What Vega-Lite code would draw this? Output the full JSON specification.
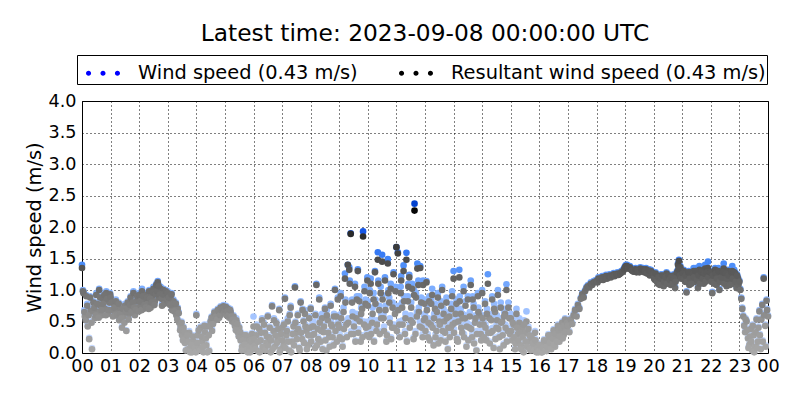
{
"$schema": "https://vega.github.io/schema/vega-lite/v6.json",
"width": 686, "height": 252,
"autosize": "none",
"padding": {"left": 82, "top": 101, "right": 32, "bottom": 47},
"background": "white",
"title": {"text": "Latest time: 2023-09-08 00:00:00 UTC", "fontSize": 23.3, "fontWeight": "normal", "font": "DejaVu Sans", "color": "#000", "anchor": "middle", "offset": 8},
"data": {"values": [
{"m":0,"w":1.40,"r":1.35},{"m":3,"w":0.98,"r":0.95},{"m":6,"w":0.62,"r":0.58},{"m":9,"w":0.92,"r":0.9},{"m":12,"w":0.45,"r":0.42},{"m":15,"w":0.24,"r":0.22},{"m":18,"w":0.7,"r":0.67},{"m":21,"w":0.08,"r":0.06},{"m":24,"w":0.82,"r":0.8},{"m":27,"w":0.58,"r":0.55},{"m":30,"w":0.95,"r":0.92},{"m":33,"w":0.68,"r":0.65},{"m":36,"w":1.02,"r":1.0},{"m":39,"w":0.78,"r":0.75},{"m":42,"w":0.62,"r":0.6},{"m":45,"w":0.88,"r":0.85},{"m":48,"w":0.72,"r":0.7},{"m":51,"w":0.98,"r":0.95},{"m":54,"w":0.64,"r":0.62},{"m":57,"w":0.84,"r":0.8},
{"m":2,"w":1.0,"r":0.98},{"m":5,"w":0.68,"r":0.65},{"m":8,"w":0.55,"r":0.52},{"m":11,"w":0.78,"r":0.75},{"m":14,"w":0.62,"r":0.6},{"m":17,"w":0.9,"r":0.88},{"m":20,"w":0.5,"r":0.48},{"m":23,"w":0.68,"r":0.66},{"m":26,"w":0.75,"r":0.72},{"m":29,"w":0.62,"r":0.6},{"m":32,"w":0.8,"r":0.78},{"m":35,"w":0.58,"r":0.56},{"m":38,"w":0.9,"r":0.88},{"m":41,"w":0.7,"r":0.68},{"m":44,"w":0.8,"r":0.78},{"m":47,"w":0.95,"r":0.92},{"m":50,"w":0.62,"r":0.6},{"m":53,"w":0.88,"r":0.86},{"m":56,"w":0.7,"r":0.68},{"m":59,"w":0.95,"r":0.93},
{"m":60,"w":0.9,"r":0.88},{"m":63,"w":0.7,"r":0.68},{"m":66,"w":0.82,"r":0.8},{"m":69,"w":0.62,"r":0.6},{"m":72,"w":0.75,"r":0.72},{"m":75,"w":0.68,"r":0.65},{"m":78,"w":0.55,"r":0.52},{"m":81,"w":0.72,"r":0.7},{"m":84,"w":0.42,"r":0.4},{"m":87,"w":0.6,"r":0.58},{"m":90,"w":0.78,"r":0.75},{"m":93,"w":0.36,"r":0.35},{"m":96,"w":0.82,"r":0.8},{"m":99,"w":0.65,"r":0.62},{"m":102,"w":0.9,"r":0.88},{"m":105,"w":0.72,"r":0.7},{"m":108,"w":0.98,"r":0.95},{"m":111,"w":0.62,"r":0.6},{"m":114,"w":0.85,"r":0.82},{"m":117,"w":0.75,"r":0.72},
{"m":62,"w":0.82,"r":0.8},{"m":65,"w":0.6,"r":0.58},{"m":68,"w":0.75,"r":0.72},{"m":71,"w":0.85,"r":0.82},{"m":74,"w":0.62,"r":0.6},{"m":77,"w":0.8,"r":0.78},{"m":80,"w":0.65,"r":0.62},{"m":83,"w":0.58,"r":0.55},{"m":86,"w":0.72,"r":0.7},{"m":89,"w":0.5,"r":0.48},{"m":92,"w":0.68,"r":0.65},{"m":95,"w":0.72,"r":0.7},{"m":98,"w":0.55,"r":0.53},{"m":101,"w":0.78,"r":0.76},{"m":104,"w":0.68,"r":0.65},{"m":107,"w":0.82,"r":0.8},{"m":110,"w":0.75,"r":0.72},{"m":113,"w":0.7,"r":0.68},{"m":116,"w":0.92,"r":0.9},{"m":119,"w":0.68,"r":0.66},
{"m":120,"w":0.95,"r":0.92},{"m":123,"w":0.78,"r":0.75},{"m":126,"w":1.02,"r":0.98},{"m":129,"w":0.72,"r":0.7},{"m":132,"w":0.88,"r":0.85},{"m":135,"w":0.95,"r":0.92},{"m":138,"w":0.8,"r":0.78},{"m":141,"w":1.0,"r":0.98},{"m":144,"w":0.75,"r":0.72},{"m":147,"w":0.92,"r":0.9},{"m":150,"w":1.05,"r":1.02},{"m":153,"w":0.85,"r":0.82},{"m":156,"w":1.1,"r":1.08},{"m":159,"w":1.14,"r":1.12},{"m":162,"w":0.9,"r":0.88},{"m":165,"w":1.05,"r":1.02},{"m":168,"w":0.78,"r":0.75},{"m":171,"w":1.02,"r":1.0},{"m":174,"w":0.85,"r":0.82},{"m":177,"w":0.95,"r":0.92},
{"m":122,"w":0.85,"r":0.82},{"m":125,"w":0.7,"r":0.68},{"m":128,"w":0.92,"r":0.9},{"m":131,"w":0.78,"r":0.76},{"m":134,"w":0.75,"r":0.72},{"m":137,"w":0.9,"r":0.88},{"m":140,"w":0.72,"r":0.7},{"m":143,"w":0.88,"r":0.86},{"m":146,"w":0.82,"r":0.8},{"m":149,"w":0.98,"r":0.96},{"m":152,"w":0.78,"r":0.76},{"m":155,"w":0.95,"r":0.93},{"m":158,"w":1.0,"r":0.98},{"m":161,"w":1.08,"r":1.06},{"m":164,"w":0.95,"r":0.93},{"m":167,"w":0.88,"r":0.86},{"m":170,"w":0.95,"r":0.93},{"m":173,"w":0.8,"r":0.78},{"m":176,"w":1.0,"r":0.98},{"m":179,"w":0.85,"r":0.83},
{"m":180,"w":0.98,"r":0.95},{"m":183,"w":0.82,"r":0.8},{"m":186,"w":0.92,"r":0.9},{"m":189,"w":0.7,"r":0.68},{"m":192,"w":0.85,"r":0.82},{"m":195,"w":0.75,"r":0.72},{"m":198,"w":0.62,"r":0.6},{"m":201,"w":0.72,"r":0.7},{"m":204,"w":0.5,"r":0.48},{"m":207,"w":0.45,"r":0.42},{"m":210,"w":0.3,"r":0.28},{"m":213,"w":0.42,"r":0.4},{"m":216,"w":0.18,"r":0.16},{"m":219,"w":0.25,"r":0.22},{"m":222,"w":0.08,"r":0.06},{"m":225,"w":0.35,"r":0.32},{"m":228,"w":0.12,"r":0.1},{"m":231,"w":0.02,"r":0.01},{"m":234,"w":0.2,"r":0.18},{"m":237,"w":0.05,"r":0.03},
{"m":182,"w":0.9,"r":0.88},{"m":185,"w":0.78,"r":0.76},{"m":188,"w":0.95,"r":0.93},{"m":191,"w":0.8,"r":0.78},{"m":194,"w":0.68,"r":0.66},{"m":197,"w":0.8,"r":0.78},{"m":200,"w":0.55,"r":0.53},{"m":203,"w":0.65,"r":0.63},{"m":206,"w":0.38,"r":0.36},{"m":209,"w":0.5,"r":0.48},{"m":212,"w":0.22,"r":0.2},{"m":215,"w":0.35,"r":0.33},{"m":218,"w":0.05,"r":0.04},{"m":221,"w":0.3,"r":0.28},{"m":224,"w":0.2,"r":0.18},{"m":227,"w":0.02,"r":0.01},{"m":230,"w":0.15,"r":0.13},{"m":233,"w":0.28,"r":0.26},{"m":236,"w":0.1,"r":0.08},{"m":239,"w":0.02,"r":0.01},
{"m":240,"w":0.62,"r":0.6},{"m":243,"w":0.3,"r":0.28},{"m":246,"w":0.1,"r":0.08},{"m":249,"w":0.42,"r":0.4},{"m":252,"w":0.2,"r":0.18},{"m":255,"w":0.02,"r":0.01},{"m":258,"w":0.35,"r":0.33},{"m":261,"w":0.15,"r":0.12},{"m":264,"w":0.45,"r":0.42},{"m":267,"w":0.05,"r":0.03},{"m":270,"w":0.52,"r":0.5},{"m":273,"w":0.38,"r":0.35},{"m":276,"w":0.6,"r":0.58},{"m":279,"w":0.55,"r":0.52},{"m":282,"w":0.65,"r":0.62},{"m":285,"w":0.7,"r":0.68},{"m":288,"w":0.58,"r":0.56},{"m":291,"w":0.74,"r":0.72},{"m":294,"w":0.65,"r":0.63},{"m":297,"w":0.76,"r":0.74},
{"m":242,"w":0.18,"r":0.16},{"m":245,"w":0.38,"r":0.36},{"m":248,"w":0.05,"r":0.04},{"m":251,"w":0.28,"r":0.26},{"m":254,"w":0.12,"r":0.1},{"m":257,"w":0.45,"r":0.43},{"m":260,"w":0.25,"r":0.23},{"m":263,"w":0.02,"r":0.01},{"m":266,"w":0.3,"r":0.28},{"m":269,"w":0.45,"r":0.43},{"m":272,"w":0.58,"r":0.56},{"m":275,"w":0.48,"r":0.46},{"m":278,"w":0.66,"r":0.64},{"m":281,"w":0.6,"r":0.58},{"m":284,"w":0.55,"r":0.53},{"m":287,"w":0.68,"r":0.66},{"m":290,"w":0.62,"r":0.6},{"m":293,"w":0.7,"r":0.68},{"m":296,"w":0.72,"r":0.7},{"m":299,"w":0.66,"r":0.64},
{"m":300,"w":0.7,"r":0.68},{"m":303,"w":0.62,"r":0.6},{"m":306,"w":0.72,"r":0.7},{"m":309,"w":0.58,"r":0.56},{"m":312,"w":0.66,"r":0.64},{"m":315,"w":0.52,"r":0.5},{"m":318,"w":0.6,"r":0.58},{"m":321,"w":0.45,"r":0.43},{"m":324,"w":0.55,"r":0.52},{"m":327,"w":0.35,"r":0.33},{"m":330,"w":0.42,"r":0.4},{"m":333,"w":0.22,"r":0.2},{"m":336,"w":0.12,"r":0.1},{"m":339,"w":0.3,"r":0.28},{"m":342,"w":0.05,"r":0.04},{"m":345,"w":0.18,"r":0.16},{"m":348,"w":0.02,"r":0.01},{"m":351,"w":0.25,"r":0.22},{"m":354,"w":0.1,"r":0.08},{"m":357,"w":0.32,"r":0.3},
{"m":302,"w":0.75,"r":0.73},{"m":305,"w":0.68,"r":0.66},{"m":308,"w":0.62,"r":0.6},{"m":311,"w":0.7,"r":0.68},{"m":314,"w":0.6,"r":0.58},{"m":317,"w":0.55,"r":0.53},{"m":320,"w":0.5,"r":0.48},{"m":323,"w":0.38,"r":0.36},{"m":326,"w":0.48,"r":0.46},{"m":329,"w":0.28,"r":0.26},{"m":332,"w":0.35,"r":0.33},{"m":335,"w":0.05,"r":0.04},{"m":338,"w":0.22,"r":0.2},{"m":341,"w":0.15,"r":0.13},{"m":344,"w":0.3,"r":0.28},{"m":347,"w":0.08,"r":0.06},{"m":350,"w":0.12,"r":0.1},{"m":353,"w":0.02,"r":0.01},{"m":356,"w":0.2,"r":0.18},{"m":359,"w":0.08,"r":0.07},
{"m":360,"w":0.58,"r":0.42},{"m":363,"w":0.15,"r":0.12},{"m":366,"w":0.3,"r":0.28},{"m":369,"w":0.05,"r":0.03},{"m":372,"w":0.4,"r":0.38},{"m":375,"w":0.22,"r":0.2},{"m":378,"w":0.55,"r":0.52},{"m":381,"w":0.1,"r":0.08},{"m":384,"w":0.35,"r":0.32},{"m":387,"w":0.18,"r":0.16},{"m":390,"w":0.6,"r":0.58},{"m":393,"w":0.28,"r":0.25},{"m":396,"w":0.02,"r":0.01},{"m":399,"w":0.76,"r":0.74},{"m":402,"w":0.38,"r":0.35},{"m":405,"w":0.12,"r":0.1},{"m":408,"w":0.5,"r":0.47},{"m":411,"w":0.25,"r":0.22},{"m":414,"w":0.7,"r":0.68},{"m":417,"w":0.08,"r":0.06},
{"m":361,"w":0.25,"r":0.22},{"m":364,"w":0.08,"r":0.06},{"m":367,"w":0.45,"r":0.42},{"m":370,"w":0.2,"r":0.18},{"m":373,"w":0.02,"r":0.01},{"m":376,"w":0.35,"r":0.32},{"m":379,"w":0.12,"r":0.1},{"m":382,"w":0.48,"r":0.45},{"m":385,"w":0.05,"r":0.04},{"m":388,"w":0.28,"r":0.26},{"m":391,"w":0.15,"r":0.12},{"m":394,"w":0.42,"r":0.4},{"m":397,"w":0.22,"r":0.2},{"m":400,"w":0.08,"r":0.06},{"m":403,"w":0.55,"r":0.52},{"m":406,"w":0.3,"r":0.28},{"m":409,"w":0.18,"r":0.16},{"m":412,"w":0.4,"r":0.38},{"m":415,"w":0.02,"r":0.01},{"m":418,"w":0.32,"r":0.3},
{"m":420,"w":0.42,"r":0.4},{"m":423,"w":0.15,"r":0.12},{"m":426,"w":0.88,"r":0.86},{"m":429,"w":0.3,"r":0.28},{"m":432,"w":0.55,"r":0.5},{"m":435,"w":0.05,"r":0.04},{"m":438,"w":0.75,"r":0.72},{"m":441,"w":0.2,"r":0.18},{"m":444,"w":0.45,"r":0.42},{"m":447,"w":1.06,"r":1.04},{"m":450,"w":0.35,"r":0.32},{"m":453,"w":0.62,"r":0.6},{"m":456,"w":0.1,"r":0.08},{"m":459,"w":0.82,"r":0.8},{"m":462,"w":0.25,"r":0.22},{"m":465,"w":0.52,"r":0.5},{"m":468,"w":0.68,"r":0.62},{"m":471,"w":0.38,"r":0.35},{"m":474,"w":0.15,"r":0.12},{"m":477,"w":0.58,"r":0.55},
{"m":421,"w":0.22,"r":0.2},{"m":424,"w":0.48,"r":0.45},{"m":427,"w":0.1,"r":0.08},{"m":430,"w":0.38,"r":0.35},{"m":433,"w":0.2,"r":0.18},{"m":436,"w":0.62,"r":0.6},{"m":439,"w":0.02,"r":0.01},{"m":442,"w":0.32,"r":0.3},{"m":445,"w":0.15,"r":0.12},{"m":448,"w":0.5,"r":0.48},{"m":451,"w":0.25,"r":0.22},{"m":454,"w":0.42,"r":0.38},{"m":457,"w":0.05,"r":0.04},{"m":460,"w":0.35,"r":0.32},{"m":463,"w":0.7,"r":0.68},{"m":466,"w":0.18,"r":0.16},{"m":469,"w":0.45,"r":0.42},{"m":472,"w":0.08,"r":0.06},{"m":475,"w":0.3,"r":0.28},{"m":478,"w":0.42,"r":0.4},
{"m":480,"w":0.72,"r":0.7},{"m":483,"w":0.3,"r":0.28},{"m":486,"w":0.5,"r":0.42},{"m":489,"w":0.1,"r":0.08},{"m":492,"w":1.1,"r":1.08},{"m":495,"w":0.4,"r":0.38},{"m":498,"w":0.88,"r":0.85},{"m":501,"w":0.2,"r":0.18},{"m":504,"w":0.62,"r":0.55},{"m":507,"w":0.35,"r":0.33},{"m":510,"w":0.72,"r":0.7},{"m":513,"w":0.05,"r":0.04},{"m":516,"w":0.55,"r":0.52},{"m":519,"w":0.28,"r":0.25},{"m":522,"w":0.78,"r":0.75},{"m":525,"w":0.45,"r":0.42},{"m":528,"w":0.15,"r":0.12},{"m":531,"w":1.02,"r":1.0},{"m":534,"w":0.6,"r":0.58},{"m":537,"w":0.88,"r":0.85},
{"m":481,"w":0.2,"r":0.18},{"m":484,"w":0.48,"r":0.42},{"m":487,"w":0.32,"r":0.3},{"m":490,"w":0.62,"r":0.6},{"m":493,"w":0.15,"r":0.12},{"m":496,"w":0.25,"r":0.22},{"m":499,"w":0.55,"r":0.48},{"m":502,"w":0.38,"r":0.35},{"m":505,"w":0.08,"r":0.06},{"m":508,"w":0.45,"r":0.42},{"m":511,"w":0.22,"r":0.2},{"m":514,"w":0.68,"r":0.6},{"m":517,"w":0.35,"r":0.32},{"m":520,"w":0.12,"r":0.1},{"m":523,"w":0.5,"r":0.45},{"m":526,"w":0.28,"r":0.25},{"m":529,"w":0.62,"r":0.58},{"m":532,"w":0.4,"r":0.35},{"m":535,"w":0.2,"r":0.18},{"m":538,"w":0.5,"r":0.45},
{"m":540,"w":0.45,"r":0.4},{"m":543,"w":0.95,"r":0.9},{"m":546,"w":0.25,"r":0.22},{"m":549,"w":0.72,"r":0.65},{"m":552,"w":1.26,"r":1.18},{"m":555,"w":0.5,"r":0.45},{"m":558,"w":1.4,"r":1.4},{"m":561,"w":1.36,"r":1.32},{"m":564,"w":1.9,"r":1.89},{"m":567,"w":0.85,"r":0.8},{"m":570,"w":0.35,"r":0.3},{"m":573,"w":1.1,"r":1.05},{"m":576,"w":0.62,"r":0.55},{"m":579,"w":1.33,"r":1.3},{"m":582,"w":0.9,"r":0.82},{"m":585,"w":0.2,"r":0.18},{"m":588,"w":0.75,"r":0.7},{"m":590,"w":1.93,"r":1.85},{"m":593,"w":1.05,"r":0.98},{"m":596,"w":0.45,"r":0.4},{"m":599,"w":1.2,"r":1.15},
{"m":541,"w":0.3,"r":0.25},{"m":544,"w":0.62,"r":0.55},{"m":547,"w":0.12,"r":0.1},{"m":550,"w":0.42,"r":0.38},{"m":553,"w":0.85,"r":0.8},{"m":556,"w":0.28,"r":0.25},{"m":559,"w":0.55,"r":0.48},{"m":562,"w":1.15,"r":1.1},{"m":565,"w":0.35,"r":0.3},{"m":568,"w":0.65,"r":0.58},{"m":571,"w":0.48,"r":0.42},{"m":574,"w":0.2,"r":0.18},{"m":577,"w":0.9,"r":0.85},{"m":580,"w":0.38,"r":0.32},{"m":583,"w":0.55,"r":0.5},{"m":586,"w":0.72,"r":0.62},{"m":589,"w":0.28,"r":0.25},{"m":592,"w":0.5,"r":0.45},{"m":595,"w":0.85,"r":0.78},{"m":598,"w":0.32,"r":0.28},
{"m":600,"w":0.82,"r":0.75},{"m":603,"w":0.3,"r":0.25},{"m":606,"w":1.18,"r":1.1},{"m":609,"w":0.55,"r":0.48},{"m":612,"w":0.95,"r":0.85},{"m":615,"w":1.3,"r":1.28},{"m":618,"w":0.4,"r":0.35},{"m":621,"w":1.6,"r":1.48},{"m":624,"w":0.75,"r":0.68},{"m":627,"w":1.05,"r":0.95},{"m":630,"w":1.56,"r":1.45},{"m":633,"w":0.62,"r":0.55},{"m":636,"w":1.2,"r":1.15},{"m":639,"w":0.2,"r":0.18},{"m":642,"w":1.49,"r":1.42},{"m":645,"w":0.88,"r":0.8},{"m":648,"w":1.1,"r":1.02},{"m":651,"w":0.45,"r":0.4},{"m":654,"w":1.28,"r":1.25},{"m":657,"w":0.7,"r":0.62},
{"m":601,"w":0.5,"r":0.42},{"m":604,"w":1.0,"r":0.95},{"m":607,"w":0.38,"r":0.3},{"m":610,"w":0.72,"r":0.62},{"m":613,"w":0.2,"r":0.18},{"m":616,"w":0.85,"r":0.78},{"m":619,"w":0.52,"r":0.45},{"m":622,"w":1.15,"r":1.1},{"m":625,"w":0.35,"r":0.3},{"m":628,"w":0.62,"r":0.55},{"m":631,"w":0.92,"r":0.85},{"m":634,"w":0.42,"r":0.35},{"m":637,"w":0.75,"r":0.68},{"m":640,"w":0.3,"r":0.28},{"m":643,"w":1.0,"r":0.95},{"m":646,"w":0.55,"r":0.48},{"m":649,"w":0.25,"r":0.22},{"m":652,"w":0.8,"r":0.72},{"m":655,"w":0.45,"r":0.4},{"m":658,"w":1.05,"r":0.98},
{"m":660,"w":1.68,"r":1.68},{"m":663,"w":1.6,"r":1.58},{"m":666,"w":0.5,"r":0.45},{"m":669,"w":1.05,"r":0.95},{"m":672,"w":0.8,"r":0.72},{"m":675,"w":1.39,"r":1.3},{"m":678,"w":0.35,"r":0.3},{"m":681,"w":1.59,"r":1.48},{"m":684,"w":0.9,"r":0.82},{"m":687,"w":1.24,"r":1.2},{"m":690,"w":0.6,"r":0.52},{"m":693,"w":1.1,"r":1.02},{"m":696,"w":0.25,"r":0.22},{"m":698,"w":2.37,"r":2.26},{"m":701,"w":0.95,"r":0.88},{"m":704,"w":1.42,"r":1.34},{"m":707,"w":0.72,"r":0.65},{"m":710,"w":1.38,"r":1.35},{"m":713,"w":0.45,"r":0.4},{"m":716,"w":1.15,"r":1.08},{"m":719,"w":0.85,"r":0.78},
{"m":661,"w":0.4,"r":0.35},{"m":664,"w":0.75,"r":0.68},{"m":667,"w":0.28,"r":0.25},{"m":670,"w":1.22,"r":1.15},{"m":673,"w":0.52,"r":0.45},{"m":676,"w":0.9,"r":0.82},{"m":679,"w":0.62,"r":0.55},{"m":682,"w":0.2,"r":0.18},{"m":685,"w":1.1,"r":1.05},{"m":688,"w":0.45,"r":0.4},{"m":691,"w":0.8,"r":0.72},{"m":694,"w":0.55,"r":0.48},{"m":697,"w":1.0,"r":0.92},{"m":700,"w":0.35,"r":0.3},{"m":703,"w":0.65,"r":0.58},{"m":706,"w":1.15,"r":1.08},{"m":709,"w":0.5,"r":0.42},{"m":712,"w":0.88,"r":0.8},{"m":715,"w":0.3,"r":0.25},{"m":718,"w":0.6,"r":0.52},
{"m":720,"w":0.62,"r":0.55},{"m":723,"w":1.14,"r":1.12},{"m":726,"w":0.3,"r":0.25},{"m":729,"w":0.9,"r":0.82},{"m":732,"w":0.5,"r":0.45},{"m":735,"w":1.02,"r":0.92},{"m":738,"w":0.15,"r":0.12},{"m":741,"w":0.78,"r":0.7},{"m":744,"w":0.4,"r":0.35},{"m":747,"w":0.95,"r":0.88},{"m":750,"w":0.58,"r":0.5},{"m":753,"w":0.25,"r":0.2},{"m":756,"w":1.05,"r":1.0},{"m":759,"w":0.7,"r":0.62},{"m":762,"w":0.35,"r":0.32},{"m":765,"w":0.88,"r":0.8},{"m":768,"w":0.08,"r":0.06},{"m":771,"w":0.65,"r":0.58},{"m":774,"w":0.45,"r":0.4},{"m":777,"w":0.98,"r":0.9},
{"m":721,"w":0.4,"r":0.35},{"m":724,"w":0.75,"r":0.68},{"m":727,"w":0.55,"r":0.48},{"m":730,"w":0.22,"r":0.2},{"m":733,"w":0.85,"r":0.78},{"m":736,"w":0.45,"r":0.4},{"m":739,"w":0.62,"r":0.55},{"m":742,"w":0.3,"r":0.25},{"m":745,"w":0.72,"r":0.65},{"m":748,"w":0.18,"r":0.15},{"m":751,"w":0.5,"r":0.45},{"m":754,"w":0.82,"r":0.75},{"m":757,"w":0.4,"r":0.35},{"m":760,"w":0.55,"r":0.5},{"m":763,"w":0.2,"r":0.18},{"m":766,"w":0.62,"r":0.55},{"m":769,"w":0.45,"r":0.4},{"m":772,"w":0.3,"r":0.25},{"m":775,"w":0.78,"r":0.7},{"m":778,"w":0.5,"r":0.45},
{"m":780,"w":1.3,"r":1.18},{"m":783,"w":0.55,"r":0.48},{"m":786,"w":0.85,"r":0.78},{"m":789,"w":0.2,"r":0.18},{"m":792,"w":1.32,"r":1.2},{"m":795,"w":0.7,"r":0.62},{"m":798,"w":0.38,"r":0.32},{"m":801,"w":1.05,"r":0.98},{"m":804,"w":0.6,"r":0.55},{"m":807,"w":0.12,"r":0.1},{"m":810,"w":0.9,"r":0.85},{"m":813,"w":0.45,"r":0.4},{"m":816,"w":1.15,"r":1.08},{"m":819,"w":0.3,"r":0.25},{"m":822,"w":0.78,"r":0.72},{"m":825,"w":0.52,"r":0.48},{"m":828,"w":0.05,"r":0.04},{"m":831,"w":0.95,"r":0.9},{"m":834,"w":0.65,"r":0.6},{"m":837,"w":0.35,"r":0.3},
{"m":781,"w":0.38,"r":0.32},{"m":784,"w":0.7,"r":0.62},{"m":787,"w":0.25,"r":0.22},{"m":790,"w":0.55,"r":0.5},{"m":793,"w":0.9,"r":0.82},{"m":796,"w":0.45,"r":0.4},{"m":799,"w":0.62,"r":0.55},{"m":802,"w":0.3,"r":0.25},{"m":805,"w":0.82,"r":0.75},{"m":808,"w":0.48,"r":0.42},{"m":811,"w":0.22,"r":0.2},{"m":814,"w":0.65,"r":0.58},{"m":817,"w":0.42,"r":0.38},{"m":820,"w":0.9,"r":0.85},{"m":823,"w":0.18,"r":0.15},{"m":826,"w":0.6,"r":0.55},{"m":829,"w":0.35,"r":0.3},{"m":832,"w":0.72,"r":0.65},{"m":835,"w":0.5,"r":0.45},{"m":838,"w":0.22,"r":0.2},
{"m":840,"w":1.0,"r":0.95},{"m":843,"w":0.5,"r":0.45},{"m":846,"w":0.82,"r":0.78},{"m":849,"w":0.22,"r":0.2},{"m":852,"w":1.25,"r":1.1},{"m":855,"w":0.62,"r":0.55},{"m":858,"w":0.38,"r":0.32},{"m":861,"w":0.9,"r":0.85},{"m":864,"w":0.1,"r":0.08},{"m":867,"w":0.72,"r":0.65},{"m":870,"w":0.45,"r":0.4},{"m":873,"w":1.0,"r":0.92},{"m":876,"w":0.28,"r":0.25},{"m":879,"w":0.8,"r":0.72},{"m":882,"w":0.55,"r":0.5},{"m":885,"w":0.15,"r":0.12},{"m":888,"w":0.7,"r":0.62},{"m":891,"w":1.09,"r":1.0},{"m":894,"w":0.4,"r":0.35},{"m":897,"w":0.6,"r":0.55},
{"m":841,"w":0.6,"r":0.55},{"m":844,"w":0.3,"r":0.25},{"m":847,"w":0.45,"r":0.4},{"m":850,"w":0.7,"r":0.62},{"m":853,"w":0.38,"r":0.32},{"m":856,"w":0.18,"r":0.15},{"m":859,"w":0.58,"r":0.52},{"m":862,"w":0.4,"r":0.35},{"m":865,"w":0.78,"r":0.7},{"m":868,"w":0.25,"r":0.22},{"m":871,"w":0.6,"r":0.52},{"m":874,"w":0.42,"r":0.38},{"m":877,"w":0.08,"r":0.06},{"m":880,"w":0.55,"r":0.48},{"m":883,"w":0.32,"r":0.28},{"m":886,"w":0.65,"r":0.58},{"m":889,"w":0.45,"r":0.4},{"m":892,"w":0.2,"r":0.18},{"m":895,"w":0.8,"r":0.72},{"m":898,"w":0.35,"r":0.3},
{"m":900,"w":0.62,"r":0.55},{"m":903,"w":0.25,"r":0.2},{"m":906,"w":0.5,"r":0.45},{"m":909,"w":0.08,"r":0.06},{"m":912,"w":0.7,"r":0.62},{"m":915,"w":0.35,"r":0.3},{"m":918,"w":0.55,"r":0.48},{"m":921,"w":0.15,"r":0.12},{"m":924,"w":0.45,"r":0.4},{"m":927,"w":0.02,"r":0.01},{"m":930,"w":0.38,"r":0.32},{"m":933,"w":0.66,"r":0.5},{"m":936,"w":0.2,"r":0.18},{"m":939,"w":0.3,"r":0.28},{"m":942,"w":0.05,"r":0.04},{"m":945,"w":0.25,"r":0.22},{"m":948,"w":0.12,"r":0.1},{"m":951,"w":0.35,"r":0.32},{"m":954,"w":0.02,"r":0.01},{"m":957,"w":0.15,"r":0.12},
{"m":901,"w":0.4,"r":0.35},{"m":904,"w":0.55,"r":0.48},{"m":907,"w":0.3,"r":0.25},{"m":910,"w":0.18,"r":0.15},{"m":913,"w":0.45,"r":0.4},{"m":916,"w":0.25,"r":0.2},{"m":919,"w":0.38,"r":0.32},{"m":922,"w":0.08,"r":0.06},{"m":925,"w":0.3,"r":0.25},{"m":928,"w":0.52,"r":0.45},{"m":931,"w":0.2,"r":0.18},{"m":934,"w":0.12,"r":0.1},{"m":937,"w":0.42,"r":0.38},{"m":940,"w":0.08,"r":0.06},{"m":943,"w":0.28,"r":0.25},{"m":946,"w":0.18,"r":0.15},{"m":949,"w":0.05,"r":0.04},{"m":952,"w":0.22,"r":0.2},{"m":955,"w":0.1,"r":0.08},{"m":958,"w":0.02,"r":0.01},
{"m":960,"w":0.05,"r":0.04},{"m":963,"w":0.12,"r":0.1},{"m":966,"w":0.02,"r":0.01},{"m":969,"w":0.08,"r":0.06},{"m":972,"w":0.15,"r":0.13},{"m":975,"w":0.04,"r":0.03},{"m":978,"w":0.22,"r":0.2},{"m":981,"w":0.1,"r":0.08},{"m":984,"w":0.3,"r":0.28},{"m":987,"w":0.18,"r":0.16},{"m":990,"w":0.38,"r":0.36},{"m":993,"w":0.12,"r":0.1},{"m":996,"w":0.28,"r":0.26},{"m":999,"w":0.45,"r":0.43},{"m":1002,"w":0.2,"r":0.18},{"m":1005,"w":0.35,"r":0.33},{"m":1008,"w":0.5,"r":0.48},{"m":1011,"w":0.3,"r":0.28},{"m":1014,"w":0.55,"r":0.53},{"m":1017,"w":0.42,"r":0.4},
{"m":961,"w":0.15,"r":0.13},{"m":964,"w":0.02,"r":0.01},{"m":967,"w":0.1,"r":0.08},{"m":970,"w":0.22,"r":0.2},{"m":973,"w":0.05,"r":0.04},{"m":976,"w":0.12,"r":0.1},{"m":979,"w":0.3,"r":0.28},{"m":982,"w":0.18,"r":0.16},{"m":985,"w":0.08,"r":0.06},{"m":988,"w":0.25,"r":0.23},{"m":991,"w":0.15,"r":0.13},{"m":994,"w":0.32,"r":0.3},{"m":997,"w":0.2,"r":0.18},{"m":1000,"w":0.38,"r":0.36},{"m":1003,"w":0.28,"r":0.26},{"m":1006,"w":0.42,"r":0.4},{"m":1009,"w":0.25,"r":0.23},{"m":1012,"w":0.45,"r":0.43},{"m":1015,"w":0.35,"r":0.33},{"m":1018,"w":0.5,"r":0.48},
{"m":1020,"w":0.45,"r":0.43},{"m":1023,"w":0.35,"r":0.33},{"m":1026,"w":0.55,"r":0.53},{"m":1029,"w":0.48,"r":0.46},{"m":1032,"w":0.62,"r":0.6},{"m":1035,"w":0.7,"r":0.68},{"m":1038,"w":0.6,"r":0.58},{"m":1041,"w":0.78,"r":0.76},{"m":1044,"w":0.72,"r":0.7},{"m":1047,"w":0.88,"r":0.86},{"m":1050,"w":0.95,"r":0.93},{"m":1053,"w":0.9,"r":0.88},{"m":1056,"w":1.0,"r":0.98},{"m":1059,"w":1.05,"r":1.03},{"m":1062,"w":1.08,"r":1.06},{"m":1065,"w":1.06,"r":1.04},{"m":1068,"w":1.12,"r":1.1},{"m":1071,"w":1.1,"r":1.08},{"m":1074,"w":1.14,"r":1.12},{"m":1077,"w":1.15,"r":1.13},
{"m":1080,"w":1.16,"r":1.14},{"m":1084,"w":1.2,"r":1.18},{"m":1088,"w":1.18,"r":1.16},{"m":1092,"w":1.22,"r":1.2},{"m":1096,"w":1.2,"r":1.18},{"m":1100,"w":1.24,"r":1.22},{"m":1104,"w":1.22,"r":1.2},{"m":1108,"w":1.25,"r":1.23},{"m":1112,"w":1.24,"r":1.22},{"m":1116,"w":1.27,"r":1.25},{"m":1120,"w":1.26,"r":1.24},{"m":1124,"w":1.28,"r":1.26},{"m":1128,"w":1.27,"r":1.25},{"m":1132,"w":1.3,"r":1.28},{"m":1136,"w":1.32,"r":1.3},
{"m":1082,"w":1.14,"r":1.12},{"m":1086,"w":1.18,"r":1.16},{"m":1090,"w":1.2,"r":1.18},{"m":1094,"w":1.18,"r":1.16},{"m":1098,"w":1.22,"r":1.2},{"m":1102,"w":1.2,"r":1.18},{"m":1106,"w":1.24,"r":1.22},{"m":1110,"w":1.22,"r":1.2},{"m":1114,"w":1.25,"r":1.23},{"m":1118,"w":1.24,"r":1.22},{"m":1122,"w":1.27,"r":1.25},{"m":1126,"w":1.26,"r":1.24},{"m":1130,"w":1.28,"r":1.26},{"m":1134,"w":1.3,"r":1.28},{"m":1138,"w":1.35,"r":1.33},
{"m":1140,"w":1.38,"r":1.36},{"m":1144,"w":1.4,"r":1.38},{"m":1148,"w":1.37,"r":1.35},{"m":1152,"w":1.35,"r":1.33},{"m":1156,"w":1.32,"r":1.3},{"m":1160,"w":1.34,"r":1.32},{"m":1164,"w":1.3,"r":1.28},{"m":1168,"w":1.33,"r":1.31},{"m":1172,"w":1.36,"r":1.34},{"m":1176,"w":1.33,"r":1.31},{"m":1180,"w":1.3,"r":1.28},{"m":1184,"w":1.35,"r":1.33},{"m":1188,"w":1.31,"r":1.29},{"m":1192,"w":1.25,"r":1.23},{"m":1196,"w":1.3,"r":1.28},
{"m":1142,"w":1.4,"r":1.38},{"m":1146,"w":1.36,"r":1.34},{"m":1150,"w":1.38,"r":1.36},{"m":1154,"w":1.33,"r":1.31},{"m":1158,"w":1.31,"r":1.29},{"m":1162,"w":1.35,"r":1.33},{"m":1166,"w":1.32,"r":1.3},{"m":1170,"w":1.3,"r":1.28},{"m":1174,"w":1.34,"r":1.32},{"m":1178,"w":1.35,"r":1.33},{"m":1182,"w":1.32,"r":1.3},{"m":1186,"w":1.28,"r":1.26},{"m":1190,"w":1.33,"r":1.31},{"m":1194,"w":1.32,"r":1.3},{"m":1198,"w":1.28,"r":1.26},
{"m":1200,"w":1.26,"r":1.24},{"m":1203,"w":1.18,"r":1.16},{"m":1206,"w":1.22,"r":1.2},{"m":1209,"w":1.12,"r":1.1},{"m":1212,"w":1.2,"r":1.18},{"m":1215,"w":1.25,"r":1.23},{"m":1218,"w":1.15,"r":1.13},{"m":1221,"w":1.08,"r":1.06},{"m":1224,"w":1.2,"r":1.18},{"m":1227,"w":1.28,"r":1.26},{"m":1230,"w":1.14,"r":1.12},{"m":1233,"w":1.22,"r":1.2},{"m":1236,"w":1.1,"r":1.08},{"m":1239,"w":1.18,"r":1.16},{"m":1242,"w":1.25,"r":1.23},{"m":1245,"w":1.05,"r":1.03},{"m":1248,"w":1.2,"r":1.18},{"m":1251,"w":1.42,"r":1.4},{"m":1253,"w":1.48,"r":1.46},{"m":1256,"w":1.38,"r":1.36},{"m":1259,"w":1.3,"r":1.28},
{"m":1201,"w":1.2,"r":1.18},{"m":1204,"w":1.28,"r":1.26},{"m":1207,"w":1.15,"r":1.13},{"m":1210,"w":1.22,"r":1.2},{"m":1213,"w":1.1,"r":1.08},{"m":1216,"w":1.2,"r":1.18},{"m":1219,"w":1.25,"r":1.23},{"m":1222,"w":1.15,"r":1.13},{"m":1225,"w":1.22,"r":1.2},{"m":1228,"w":1.12,"r":1.1},{"m":1231,"w":1.25,"r":1.23},{"m":1234,"w":1.18,"r":1.16},{"m":1237,"w":1.22,"r":1.2},{"m":1240,"w":1.12,"r":1.1},{"m":1243,"w":1.2,"r":1.18},{"m":1246,"w":1.15,"r":1.13},{"m":1249,"w":1.3,"r":1.28},{"m":1252,"w":1.35,"r":1.33},{"m":1255,"w":1.25,"r":1.23},{"m":1258,"w":1.2,"r":1.18},
{"m":1260,"w":1.22,"r":1.2},{"m":1263,"w":1.32,"r":1.3},{"m":1266,"w":1.15,"r":1.13},{"m":1269,"w":0.98,"r":0.96},{"m":1272,"w":1.25,"r":1.23},{"m":1275,"w":1.1,"r":1.08},{"m":1278,"w":1.3,"r":1.28},{"m":1281,"w":1.2,"r":1.18},{"m":1284,"w":1.35,"r":1.3},{"m":1287,"w":1.15,"r":1.13},{"m":1290,"w":1.28,"r":1.26},{"m":1293,"w":1.05,"r":1.03},{"m":1296,"w":1.38,"r":1.32},{"m":1299,"w":1.22,"r":1.2},{"m":1302,"w":1.3,"r":1.28},{"m":1305,"w":1.12,"r":1.1},{"m":1308,"w":1.4,"r":1.34},{"m":1311,"w":1.25,"r":1.23},{"m":1314,"w":1.45,"r":1.35},{"m":1317,"w":1.18,"r":1.16},
{"m":1261,"w":1.28,"r":1.26},{"m":1264,"w":1.2,"r":1.18},{"m":1267,"w":1.25,"r":1.23},{"m":1270,"w":1.15,"r":1.13},{"m":1273,"w":1.3,"r":1.28},{"m":1276,"w":1.2,"r":1.18},{"m":1279,"w":1.12,"r":1.1},{"m":1282,"w":1.28,"r":1.26},{"m":1285,"w":1.22,"r":1.2},{"m":1288,"w":1.35,"r":1.3},{"m":1291,"w":1.18,"r":1.16},{"m":1294,"w":1.25,"r":1.23},{"m":1297,"w":1.12,"r":1.1},{"m":1300,"w":1.32,"r":1.28},{"m":1303,"w":1.2,"r":1.18},{"m":1306,"w":1.28,"r":1.26},{"m":1309,"w":1.15,"r":1.13},{"m":1312,"w":1.32,"r":1.28},{"m":1315,"w":1.22,"r":1.2},{"m":1318,"w":1.3,"r":1.28},
{"m":1320,"w":1.3,"r":1.28},{"m":1323,"w":0.97,"r":0.95},{"m":1326,"w":1.2,"r":1.18},{"m":1329,"w":1.35,"r":1.32},{"m":1332,"w":1.1,"r":1.08},{"m":1335,"w":1.25,"r":1.23},{"m":1338,"w":1.02,"r":1.0},{"m":1341,"w":1.3,"r":1.28},{"m":1344,"w":1.18,"r":1.16},{"m":1347,"w":1.42,"r":1.34},{"m":1350,"w":1.22,"r":1.2},{"m":1353,"w":1.08,"r":1.06},{"m":1356,"w":1.32,"r":1.3},{"m":1359,"w":1.15,"r":1.13},{"m":1362,"w":1.25,"r":1.23},{"m":1365,"w":1.38,"r":1.3},{"m":1368,"w":1.12,"r":1.1},{"m":1371,"w":1.28,"r":1.26},{"m":1374,"w":1.05,"r":1.03},{"m":1377,"w":1.2,"r":1.18},
{"m":1321,"w":1.15,"r":1.13},{"m":1324,"w":1.25,"r":1.23},{"m":1327,"w":1.12,"r":1.1},{"m":1330,"w":1.28,"r":1.26},{"m":1333,"w":1.2,"r":1.18},{"m":1336,"w":1.35,"r":1.3},{"m":1339,"w":1.15,"r":1.13},{"m":1342,"w":1.22,"r":1.2},{"m":1345,"w":1.3,"r":1.28},{"m":1348,"w":1.12,"r":1.1},{"m":1351,"w":1.28,"r":1.26},{"m":1354,"w":1.2,"r":1.18},{"m":1357,"w":1.25,"r":1.23},{"m":1360,"w":1.1,"r":1.08},{"m":1363,"w":1.3,"r":1.28},{"m":1366,"w":1.2,"r":1.18},{"m":1369,"w":1.32,"r":1.28},{"m":1372,"w":1.15,"r":1.13},{"m":1375,"w":1.25,"r":1.23},{"m":1378,"w":1.1,"r":1.08},
{"m":1380,"w":1.15,"r":1.13},{"m":1382,"w":1.02,"r":1.0},{"m":1384,"w":0.88,"r":0.86},{"m":1386,"w":0.72,"r":0.7},{"m":1388,"w":0.6,"r":0.58},{"m":1390,"w":0.45,"r":0.43},{"m":1392,"w":0.35,"r":0.33},{"m":1395,"w":0.52,"r":0.5},{"m":1398,"w":0.25,"r":0.23},{"m":1401,"w":0.15,"r":0.13},{"m":1404,"w":0.4,"r":0.38},{"m":1407,"w":0.05,"r":0.04},{"m":1410,"w":0.3,"r":0.28},{"m":1413,"w":0.12,"r":0.1},{"m":1416,"w":0.55,"r":0.53},{"m":1419,"w":0.2,"r":0.18},{"m":1422,"w":0.68,"r":0.66},{"m":1425,"w":0.08,"r":0.06},{"m":1428,"w":0.78,"r":0.76},{"m":1431,"w":1.2,"r":1.18},{"m":1434,"w":0.45,"r":0.43},{"m":1437,"w":0.85,"r":0.83},{"m":1440,"w":0.6,"r":0.58},
{"m":1393,"w":0.55,"r":0.53},{"m":1396,"w":0.38,"r":0.36},{"m":1399,"w":0.1,"r":0.08},{"m":1402,"w":0.28,"r":0.26},{"m":1405,"w":0.2,"r":0.18},{"m":1408,"w":0.45,"r":0.43},{"m":1411,"w":0.02,"r":0.01},{"m":1414,"w":0.35,"r":0.33},{"m":1417,"w":0.1,"r":0.08},{"m":1420,"w":0.42,"r":0.4},{"m":1423,"w":0.3,"r":0.28},{"m":1426,"w":0.55,"r":0.53},{"m":1429,"w":0.2,"r":0.18},{"m":1432,"w":0.62,"r":0.6},{"m":1435,"w":0.12,"r":0.1},{"m":1438,"w":0.7,"r":0.68}
]},
"encoding": {
  "x": {"field": "m", "type": "quantitative", "scale": {"domain": [0, 1440], "nice": false, "zero": false},
        "axis": {"values": [0,60,120,180,240,300,360,420,480,540,600,660,720,780,840,900,960,1020,1080,1140,1200,1260,1320,1380,1440],
                 "labelExpr": "datum.value == 1440 ? '00' : (datum.value < 600 ? '0' + (datum.value/60) : '' + (datum.value/60))",
                 "title": null, "labelPadding": 4, "labelOverlap": false, "labelFlush": false, "labelBound": false}}
},
"layer": [
{"mark": {"type": "point", "filled": true, "size": 44, "opacity": 1, "strokeWidth": 0},
 "encoding": {
  "y": {"field": "w", "type": "quantitative", "scale": {"domain": [0, 4], "nice": false},
        "axis": {"values": [0,0.5,1,1.5,2,2.5,3,3.5,4], "format": ".1f", "title": "Wind speed (m/s)", "labelPadding": 6, "titlePadding": 4, "labelOverlap": false}},
  "color": {"field": "w", "type": "quantitative", "legend": null,
            "scale": {"domain": [0, 0.45, 1.0, 1.4, 1.9, 2.4], "range": ["#cfe0ff", "#b0ccff", "#80b0ff", "#4a8cf8", "#1858e8", "#0040cc"]}}
 }},
{"mark": {"type": "point", "filled": true, "size": 44, "opacity": 1, "strokeWidth": 0},
 "encoding": {
  "y": {"field": "r", "type": "quantitative", "scale": {"domain": [0, 4], "nice": false},
        "axis": {"values": [0,0.5,1,1.5,2,2.5,3,3.5,4], "format": ".1f", "title": "Wind speed (m/s)", "labelPadding": 6, "titlePadding": 4, "labelOverlap": false}},
  "color": {"field": "r", "type": "quantitative", "legend": null,
            "scale": {"domain": [0, 0.45, 1.0, 1.35, 1.9, 2.3], "range": ["#a8a8a8", "#999999", "#6e6e6e", "#555555", "#2a2a2a", "#000000"]}}
 }},
{"data": {"values": [{"s": "Wind speed (0.43 m/s)", "m": 720, "w": 2}, {"s": "Resultant wind speed (0.43 m/s)", "m": 720, "w": 2}]},
 "mark": {"type": "point", "filled": true, "opacity": 0},
 "encoding": {
  "y": {"field": "w", "type": "quantitative", "scale": {"domain": [0, 4], "nice": false},
        "axis": {"values": [0,0.5,1,1.5,2,2.5,3,3.5,4], "format": ".1f", "title": "Wind speed (m/s)", "labelPadding": 6, "titlePadding": 4, "labelOverlap": false}},
  "fill": {"field": "s", "type": "nominal",
           "scale": {"domain": ["Wind speed (0.43 m/s)", "Resultant wind speed (0.43 m/s)"], "range": ["#0000ff", "#000000"]},
           "legend": {"orient": "none", "legendX": -5, "legendY": -46, "direction": "horizontal", "title": null,
                      "symbolType": "M-1,0a0.15,0.15 0 1,0 0.3,0a0.15,0.15 0 1,0 -0.3,0M-0.15,0a0.15,0.15 0 1,0 0.3,0a0.15,0.15 0 1,0 -0.3,0M0.7,0a0.15,0.15 0 1,0 0.3,0a0.15,0.15 0 1,0 -0.3,0",
                      "symbolSize": 1156, "symbolOpacity": 1, "symbolStrokeWidth": 0,
                      "labelFontSize": 19.4, "labelFont": "DejaVu Sans", "labelColor": "#000", "labelLimit": 600,
                      "labelOffset": 18, "columnPadding": 33, "padding": 1, "symbolOffset": 8,
                      "strokeColor": "#000", "fillColor": "#fff", "cornerRadius": 0}}
 }}
],
"resolve": {"scale": {"color": "independent"}},
"config": {
 "view": {"stroke": "#000", "strokeWidth": 1},
 "font": "DejaVu Sans",
 "axis": {"domain": false, "ticks": false, "grid": true, "gridColor": "#000", "gridDash": [1, 3], "gridOpacity": 1, "gridWidth": 1,
          "labelFont": "DejaVu Sans", "labelFontSize": 17.6, "labelColor": "#000",
          "titleFont": "DejaVu Sans", "titleFontSize": 19.4, "titleFontWeight": "normal", "titleColor": "#000"}
}
}
